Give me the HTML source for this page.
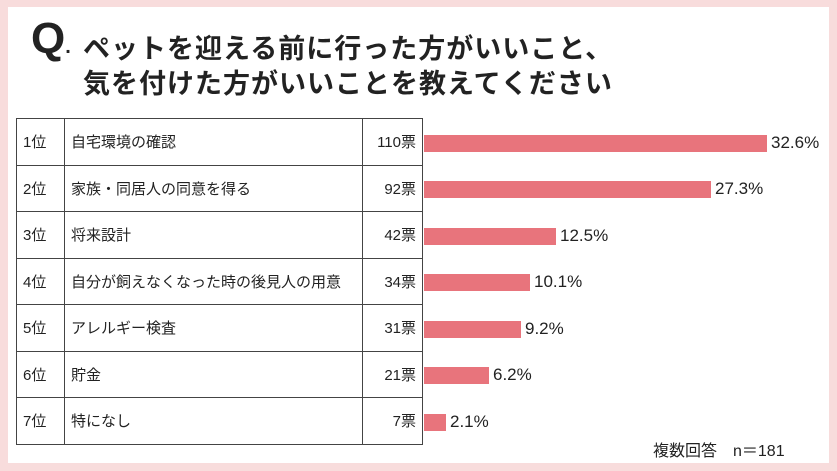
<!DOCTYPE html>
<html><head><meta charset="utf-8"><style>
body{margin:0;width:837px;height:471px;background:#f8dcdc;position:relative;overflow:hidden;font-family:"Liberation Sans","Noto Sans CJK JP",sans-serif;color:#222}
.in{position:absolute;left:8px;top:7px;width:821px;height:456px;background:#fff}
.q{position:absolute;left:31px;top:14px;font-size:44px;font-weight:bold}
.t{position:absolute;left:83px;font-size:27px;font-weight:bold;letter-spacing:1px}
table{position:absolute;left:16px;top:118px;border-collapse:collapse;font-size:15px}
td{border:1.5px solid #444;height:45.5px;padding:0 6px}
.bar{position:absolute;left:424px;height:17px;background:#e8747c}
.p{position:absolute;font-size:17px}
</style></head><body>
<div class="in"></div>
<div class="q">Q<span style="font-size:20px">.</span></div>
<div class="t" style="top:27px">ペットを迎える前に行った方がいいこと、</div>
<div class="t" style="top:62px">気を付けた方がいいことを教えてください</div>
<table>
<tr><td style="width:35px">1位</td><td style="width:285px">自宅環境の確認</td><td style="width:47px;text-align:right">110票</td></tr>
<tr><td>2位</td><td>家族・同居人の同意を得る</td><td style="text-align:right">92票</td></tr>
<tr><td>3位</td><td>将来設計</td><td style="text-align:right">42票</td></tr>
<tr><td>4位</td><td>自分が飼えなくなった時の後見人の用意</td><td style="text-align:right">34票</td></tr>
<tr><td>5位</td><td>アレルギー検査</td><td style="text-align:right">31票</td></tr>
<tr><td>6位</td><td>貯金</td><td style="text-align:right">21票</td></tr>
<tr><td>7位</td><td>特になし</td><td style="text-align:right">7票</td></tr>
</table>
<div class="bar" style="top:135px;width:343px"></div><div class="p" style="left:771px;top:133px">32.6%</div>
<div class="bar" style="top:181px;width:287px"></div><div class="p" style="left:715px;top:179px">27.3%</div>
<div class="bar" style="top:228px;width:132px"></div><div class="p" style="left:560px;top:226px">12.5%</div>
<div class="bar" style="top:274px;width:106px"></div><div class="p" style="left:534px;top:272px">10.1%</div>
<div class="bar" style="top:321px;width:97px"></div><div class="p" style="left:525px;top:319px">9.2%</div>
<div class="bar" style="top:367px;width:65px"></div><div class="p" style="left:493px;top:365px">6.2%</div>
<div class="bar" style="top:414px;width:22px"></div><div class="p" style="left:450px;top:412px">2.1%</div>
<div class="p" style="left:653px;top:437px;font-size:16px">複数回答　n＝181</div>
</body></html>
